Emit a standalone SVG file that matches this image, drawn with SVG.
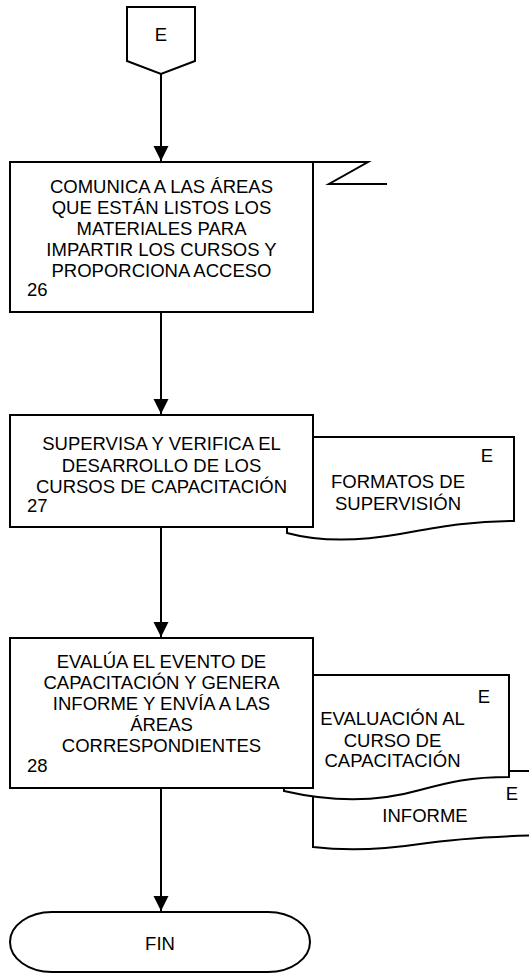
<svg xmlns="http://www.w3.org/2000/svg" width="529" height="973" viewBox="0 0 529 973">
<style>
.s{fill:#fff;stroke:#000;stroke-width:2}
.l{fill:none;stroke:#000;stroke-width:2}
text{font-family:"Liberation Sans",Arial,sans-serif;font-size:18.5px;fill:#000}
.c{text-anchor:middle}
</style>
<defs>
<marker id="ah" markerUnits="userSpaceOnUse" markerWidth="15" markerHeight="16" refX="15" refY="7.5" orient="auto">
<path d="M0,0 L15,7.5 L0,15 Z" fill="#000"/>
</marker>
</defs>
<rect width="529" height="973" fill="#fff"/>
<g id="connectors">
<line class="l" x1="161" y1="74" x2="161" y2="161" marker-end="url(#ah)"/>
<line class="l" x1="161" y1="312" x2="161" y2="414" marker-end="url(#ah)"/>
<line class="l" x1="161" y1="527" x2="161" y2="637" marker-end="url(#ah)"/>
<line class="l" x1="161" y1="788" x2="161" y2="911" marker-end="url(#ah)"/>
</g>
<g id="startE">
<polygon class="s" points="127,7 195,7 195,61 161,74 127,61"/>
<text class="c" x="161" y="41">E</text>
</g>
<g id="n26">
<polyline class="l" points="313,162 368,162 329,184 387,184"/>
<rect class="s" x="10" y="162" width="303" height="150"/>
<text class="c" x="161.5" y="193">COMUNICA A LAS ÁREAS</text>
<text class="c" x="161.5" y="214">QUE ESTÁN LISTOS LOS</text>
<text class="c" x="161.5" y="235">MATERIALES PARA</text>
<text class="c" x="161.5" y="256">IMPARTIR LOS CURSOS Y</text>
<text class="c" x="161.5" y="277">PROPORCIONA ACCESO</text>
<text x="27" y="296">26</text>
</g>
<g id="docFormatos">
<path class="s" d="M287,437 H514 V521 C470,521 440,527 400,534 C360,541 320,542 287,533 Z"/>
<text class="c" x="487" y="462">E</text>
<text class="c" x="398" y="488">FORMATOS DE</text>
<text class="c" x="398" y="509.5">SUPERVISIÓN</text>
</g>
<g id="n27">
<rect class="s" x="10" y="415" width="303" height="112"/>
<text class="c" x="161.5" y="450">SUPERVISA Y VERIFICA EL</text>
<text class="c" x="161.5" y="471.5">DESARROLLO DE LOS</text>
<text class="c" x="161.5" y="493">CURSOS DE CAPACITACIÓN</text>
<text x="27" y="512">27</text>
</g>
<g id="docInforme">
<path class="s" d="M313,771 H545 V835 C500,836 460,838 420,844 C380,850 345,851 313,847 Z"/>
<text class="c" x="512" y="800">E</text>
<text class="c" x="425" y="822">INFORME</text>
</g>
<g id="docEvaluacion">
<path class="s" d="M284,675 H509 V777 C470,777 450,782 420,790 C385,800 340,804 284,791 Z"/>
<text class="c" x="484" y="703">E</text>
<text class="c" x="392.5" y="725">EVALUACIÓN AL</text>
<text class="c" x="392.5" y="746.5">CURSO DE</text>
<text class="c" x="392.5" y="767">CAPACITACIÓN</text>
</g>
<g id="n28">
<rect class="s" x="10" y="638" width="303" height="150"/>
<text class="c" x="161.5" y="668">EVALÚA EL EVENTO DE</text>
<text class="c" x="161.5" y="689">CAPACITACIÓN Y GENERA</text>
<text class="c" x="161.5" y="710">INFORME Y ENVÍA A LAS</text>
<text class="c" x="161.5" y="731">ÁREAS</text>
<text class="c" x="161.5" y="752">CORRESPONDIENTES</text>
<text x="27" y="772">28</text>
</g>
<g id="fin">
<path class="s" d="M52,912 H268 A42,30 0 0 1 268,972 H52 A42,30 0 0 1 52,912 Z"/>
<text class="c" x="160" y="950">FIN</text>
</g>
</svg>
